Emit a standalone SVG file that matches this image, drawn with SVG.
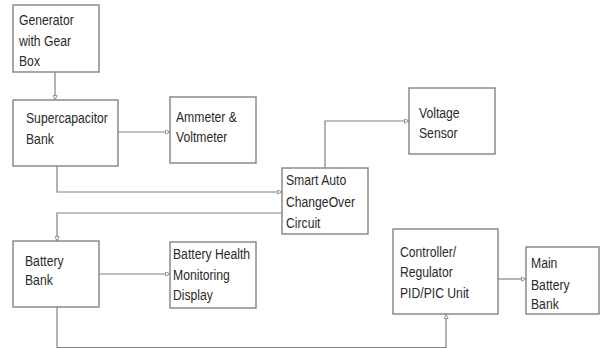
<svg xmlns="http://www.w3.org/2000/svg" width="600" height="348" viewBox="0 0 600 348">
<style>
.box{fill:#fff;stroke:#8a8a8a;stroke-width:1.5}
.ln{fill:none;stroke:#808080;stroke-width:1.2;marker-end:url(#ah)}
text{font-family:"Liberation Sans",Arial,sans-serif;font-size:14px;fill:#2a2a2a}
</style>
<defs>
<marker id="ah" viewBox="0 0 6 6" refX="5.5" refY="3" markerWidth="5" markerHeight="5" orient="auto" markerUnits="userSpaceOnUse">
<path d="M0,0.5 L5.5,3 L0,5.5 Z" fill="#fff" stroke="#808080" stroke-width="1"/>
</marker>
</defs>
<rect width="600" height="348" fill="#fff"/>
<g id="connectors">
<path class="ln" d="M55,72 V100"/>
<path class="ln" d="M118,132 H170"/>
<path class="ln" d="M57,166 V192 H282"/>
<path class="ln" d="M325,168 V121 H409"/>
<path class="ln" d="M282,213 H57 V241"/>
<path class="ln" d="M99,274 H170"/>
<path class="ln" d="M57,307 V347.5 H446 V314"/>
<path class="ln" d="M498,279 H526"/>
</g>
<g id="generator">
<rect class="box" x="13" y="5" width="86" height="67"/>
<text transform="translate(19,25) scale(0.87,1)"><tspan x="0" y="0">Generator</tspan><tspan x="0" y="21">with Gear</tspan><tspan x="0" y="41">Box</tspan></text>
</g>
<g id="supercapacitor">
<rect class="box" x="13" y="100" width="105" height="66"/>
<text transform="translate(26,123) scale(0.87,1)"><tspan x="0" y="0">Supercapacitor</tspan><tspan x="0" y="21">Bank</tspan></text>
</g>
<g id="ammeter">
<rect class="box" x="170" y="97" width="86" height="66"/>
<text transform="translate(176,122) scale(0.87,1)"><tspan x="0" y="0">Ammeter &amp;</tspan><tspan x="0" y="20">Voltmeter</tspan></text>
</g>
<g id="voltage-sensor">
<rect class="box" x="409" y="88" width="86" height="66"/>
<text transform="translate(419,118) scale(0.87,1)"><tspan x="0" y="0">Voltage</tspan><tspan x="0" y="20">Sensor</tspan></text>
</g>
<g id="smart-auto">
<rect class="box" x="282" y="168" width="86" height="66"/>
<text transform="translate(286,185) scale(0.87,1)"><tspan x="0" y="0">Smart Auto</tspan><tspan x="0" y="22">ChangeOver</tspan><tspan x="0" y="43">Circuit</tspan></text>
</g>
<g id="battery-bank">
<rect class="box" x="13" y="241" width="86" height="66"/>
<text transform="translate(25,266) scale(0.87,1)"><tspan x="0" y="0">Battery</tspan><tspan x="0" y="19">Bank</tspan></text>
</g>
<g id="battery-health">
<rect class="box" x="170" y="242" width="86" height="66"/>
<text transform="translate(173,259) scale(0.87,1)"><tspan x="0" y="0">Battery Health</tspan><tspan x="0" y="21">Monitoring</tspan><tspan x="0" y="41">Display</tspan></text>
</g>
<g id="controller">
<rect class="box" x="393" y="229" width="105" height="85"/>
<text transform="translate(400,257) scale(0.87,1)"><tspan x="0" y="0">Controller/</tspan><tspan x="0" y="20">Regulator</tspan><tspan x="0" y="41">PID/PIC Unit</tspan></text>
</g>
<g id="main-battery">
<rect class="box" x="526" y="247" width="73" height="67"/>
<text transform="translate(531,268) scale(0.87,1)"><tspan x="0" y="0">Main</tspan><tspan x="0" y="22">Battery</tspan><tspan x="0" y="41">Bank</tspan></text>
</g>
</svg>
